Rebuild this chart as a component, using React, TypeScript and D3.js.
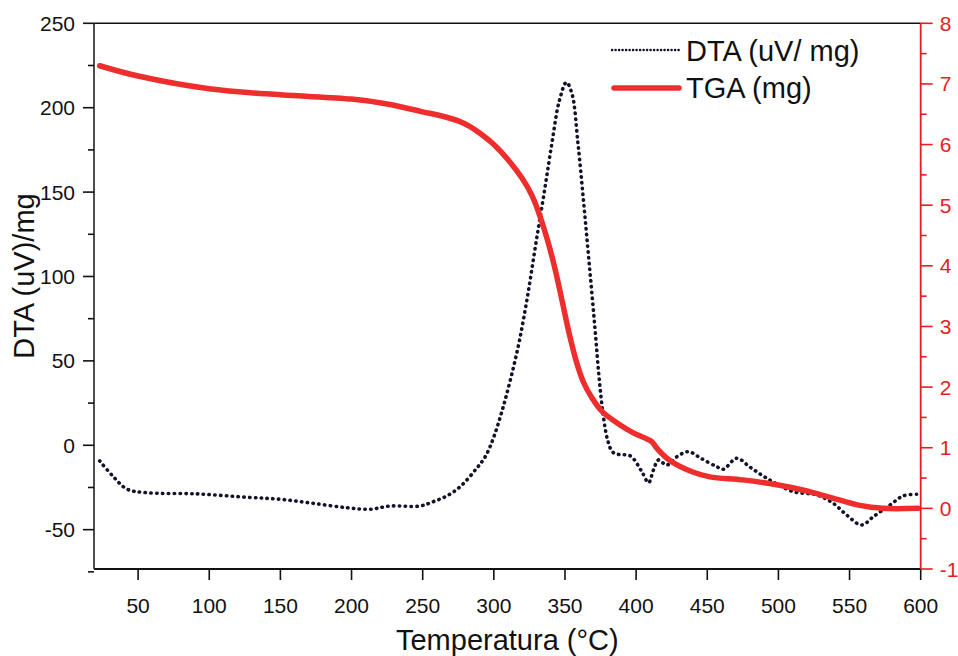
import React from 'react';
import * as d3 from 'd3';

// DTA curve (temperature °C, uV/mg)
const dtaTemp = [23, 32.6, 42.3, 56.3, 91.4, 126.5, 150, 173, 196.8, 213, 227, 248, 257.4, 267, 276.4, 288, 294, 300, 306, 312, 318, 324, 330, 336, 341, 346, 351, 355, 359, 363, 367, 371, 374, 377, 380, 383.5, 388, 395.9, 404, 408.7, 412.2, 415.7, 421.6, 428.6, 436.7, 445.5, 456.7, 461.3, 470.7, 480.1, 491.8, 510.5, 526.9, 538.6, 548, 558.5, 566.7, 578.4, 587.7, 597.1];
const dtaValue = [-9.3, -18.6, -26, -28.1, -28.8, -30.8, -32, -34.4, -37, -37.9, -36, -36, -33.4, -30, -24.5, -13.6, -6.7, 5, 21, 40, 62, 90, 122, 153, 180, 204, 215, 208, 180, 145, 108, 70, 40, 17, 3, -4, -5.5, -6.3, -15.6, -22.2, -14.6, -8.7, -11.7, -6.8, -3.8, -7.7, -12.7, -14.2, -7.7, -13, -19.5, -27.5, -29.4, -34.4, -41.3, -47.2, -42.3, -35.4, -30, -29];

// TGA curve (temperature °C, mg)
const tgaTemp = [23, 50, 100, 150, 200, 225, 250, 262, 275, 283, 290, 300, 310, 320, 327, 333, 338, 343, 348, 353, 358, 363, 369, 376, 388.5, 397.7, 407, 411, 415, 423.7, 439.8, 451.8, 475, 498.9, 510.1, 524.2, 538.2, 557.2, 573.4, 598];
const tgaValue = [7.3, 7.13, 6.92, 6.82, 6.75, 6.67, 6.54, 6.48, 6.39, 6.3, 6.19, 6.0, 5.75, 5.44, 5.15, 4.78, 4.4, 3.95, 3.42, 2.88, 2.42, 2.08, 1.82, 1.6, 1.38, 1.25, 1.15, 1.1, 0.98, 0.79, 0.6, 0.52, 0.47, 0.39, 0.34, 0.26, 0.17, 0.05, 0.0, 0.0];

const xTicks = [50, 100, 150, 200, 250, 300, 350, 400, 450, 500, 550, 600];
const leftTicks = [-50, 0, 50, 100, 150, 200, 250];
const leftMinor = [-75, -25, 25, 75, 125, 175, 225];
const rightTicks = [-1, 0, 1, 2, 3, 4, 5, 6, 7, 8];
const rightMinor = [-0.5, 0.5, 1.5, 2.5, 3.5, 4.5, 5.5, 6.5, 7.5];

const W = 958;
const H = 656;
const m = { left: 94, right: 920.7, top: 23.3, bottom: 569 };
const font = 'Liberation Sans, Arial, sans-serif';
const red = '#ee2d2d';
const axisRed = '#e31e24';

export default function App() {
  const x = d3.scaleLinear().domain([19, 600]).range([m.left, m.right]);
  const yL = d3.scaleLinear().domain([-73.3, 250]).range([m.bottom, m.top]);
  const yR = d3.scaleLinear().domain([-1, 8]).range([m.bottom, m.top]);

  const dtaLine = d3
    .line<number>()
    .x((_, i) => x(dtaTemp[i]))
    .y((d) => yL(d))
    .curve(d3.curveCatmullRom.alpha(0.5));
  const tgaLine = d3
    .line<number>()
    .x((_, i) => x(tgaTemp[i]))
    .y((d) => yR(d))
    .curve(d3.curveCatmullRom.alpha(0.5));

  return (
    <svg width={W} height={H} style={{ position: 'absolute', left: 0, top: 0, background: '#fff' }}>
      {/* top border */}
      <line x1={m.left} x2={m.right} y1={m.top} y2={m.top} stroke="#111" strokeWidth={1.6} />

      {/* curves */}
      <path d={dtaLine(dtaValue) || ''} fill="none" stroke="#121228" strokeWidth={3.6}
        strokeDasharray="0.4 5.4" strokeLinecap="round" />
      <path d={tgaLine(tgaValue) || ''} fill="none" stroke={red} strokeWidth={5.5} strokeLinecap="round" />

      {/* bottom axis */}
      <line x1={m.left} x2={m.right} y1={m.bottom} y2={m.bottom} stroke="#111" strokeWidth={1.8} />
      {xTicks.map((t) => (
        <g key={'x' + t}>
          <line x1={x(t)} x2={x(t)} y1={m.bottom} y2={m.bottom + 11} stroke="#111" strokeWidth={1.6} />
          <text x={x(t)} y={m.bottom + 44} textAnchor="middle" fontFamily={font} fontSize={21} fill="#111">
            {t}
          </text>
        </g>
      ))}

      {/* left axis */}
      <line x1={m.left} x2={m.left} y1={m.top} y2={m.bottom} stroke="#3a3a3a" strokeWidth={1.8} />
      {leftTicks.map((t) => (
        <g key={'l' + t}>
          <line x1={m.left - 11} x2={m.left} y1={yL(t)} y2={yL(t)} stroke="#111" strokeWidth={1.6} />
          <text x={m.left - 19} y={yL(t)} dy="0.36em" textAnchor="end" fontFamily={font} fontSize={21} fill="#111">
            {t}
          </text>
        </g>
      ))}
      {leftMinor.map((t) => (
        <line key={'lm' + t} x1={m.left - 6} x2={m.left} y1={yL(t)} y2={yL(t)} stroke="#111" strokeWidth={1.6} />
      ))}

      {/* right axis */}
      <line x1={m.right} x2={m.right} y1={m.top} y2={m.bottom} stroke={axisRed} strokeWidth={1.8} />
      {rightTicks.map((t) => (
        <g key={'r' + t}>
          <line x1={m.right} x2={m.right + 12} y1={yR(t)} y2={yR(t)} stroke={axisRed} strokeWidth={1.6} />
          <text x={m.right + 19} y={yR(t)} dy="0.36em" textAnchor="start" fontFamily={font} fontSize={21} fill={axisRed}>
            {t}
          </text>
        </g>
      ))}
      {rightMinor.map((t) => (
        <line key={'rm' + t} x1={m.right} x2={m.right + 6} y1={yR(t)} y2={yR(t)} stroke={axisRed} strokeWidth={1.6} />
      ))}

      {/* axis titles */}
      <text x={(m.left + m.right) / 2} y={650} textAnchor="middle" fontFamily={font} fontSize={29} fill="#111">
        Temperatura (°C)
      </text>
      <text transform={`translate(34,${276}) rotate(-90)`} textAnchor="middle" fontFamily={font} fontSize={29} fill="#111">
        DTA (uV)/mg
      </text>

      {/* legend */}
      <line x1={612} x2={680} y1={50} y2={50} stroke="#121228" strokeWidth={2.4}
        strokeDasharray="0.2 3.3" strokeLinecap="round" />
      <text x={686} y={61} fontFamily={font} fontSize={29} fill="#111">DTA (uV/ mg)</text>
      <line x1={614} x2={679} y1={88} y2={88} stroke={red} strokeWidth={5.5} strokeLinecap="round" />
      <text x={686} y={98} fontFamily={font} fontSize={29} fill="#111">TGA (mg)</text>
    </svg>
  );
}
